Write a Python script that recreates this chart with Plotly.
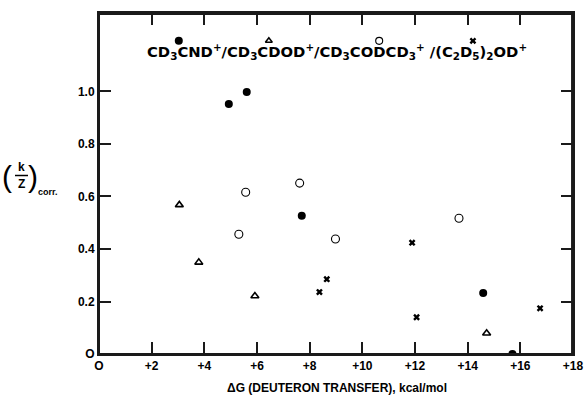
import plotly.graph_objects as go

# ---- data ----
filled_x = [4.93, 5.61, 7.70, 14.59, 15.70]
filled_y = [0.952, 0.998, 0.527, 0.232, 0.000]

tri_x = [3.05, 3.79, 5.92, 14.72]
tri_y = [0.568, 0.349, 0.221, 0.079]

open_x = [5.57, 5.31, 7.62, 8.98, 13.67]
open_y = [0.616, 0.456, 0.651, 0.438, 0.517]

cross_x = [8.65, 8.37, 11.89, 12.06, 16.75]
cross_y = [0.285, 0.236, 0.424, 0.140, 0.174]

x_tick_vals = [0, 2, 4, 6, 8, 10, 12, 14, 16, 18]
x_tick_text = ["O", "+2", "+4", "+6", "+8", "+10", "+12", "+14", "+16", "+18"]
y_tick_vals = [0, 0.2, 0.4, 0.6, 0.8, 1.0]
y_tick_text = ["O", "0.2", "0.4", "0.6", "0.8", "1.0"]

# key markers placed above the compound names (data coords)
key_x = [3.03, 6.45, 10.64, 14.20]
key_y = 1.193

FONT = "Liberation Sans"
LABEL_FONT = "DejaVu Sans"
INK = "#1a1a1a"
W, H = 584, 395
L, R, T, B = 99, 11, 13, 41
PW, PH = W - L - R, H - T - B
TICKLEN = 12


def px(x):
    return (x - L) / PW


def py(y):
    return (H - B - y) / PH


fig = go.Figure()

fig.add_trace(go.Scatter(x=filled_x, y=filled_y, mode="markers",
                         marker=dict(symbol="circle", size=8, color="black")))
fig.add_trace(go.Scatter(x=tri_x, y=tri_y, mode="markers",
                         marker=dict(symbol="triangle-up-open", size=7, color="black",
                                     line=dict(width=1.6, color="black"))))
fig.add_trace(go.Scatter(x=open_x, y=open_y, mode="markers",
                         marker=dict(symbol="circle-open", size=8, color="black",
                                     line=dict(width=1.1, color="black"))))
fig.add_trace(go.Scatter(x=cross_x, y=cross_y, mode="markers",
                         marker=dict(symbol="x", size=6, color="black",
                                     line=dict(width=0))))
for sym, k, s, lw in [("circle", 0, 8, 0), ("triangle-up-open", 1, 6, 1.5),
                      ("circle-open", 2, 7, 1.1), ("x", 3, 6, 0)]:
    fig.add_trace(go.Scatter(x=[key_x[k]], y=[key_y], mode="markers",
                             marker=dict(symbol=sym, size=s, color="black",
                                         line=dict(width=lw, color="black"))))

axis_common = dict(showgrid=False, zeroline=False, showline=True, linecolor=INK,
                   linewidth=2, mirror="ticks", ticks="inside", ticklen=TICKLEN,
                   tickwidth=1.6, tickcolor=INK,
                   tickfont=dict(family=FONT, size=12, color="black"))

fig.update_xaxes(range=[0, 18], tickvals=x_tick_vals,
                 ticktext=["<b>%s</b>" % t for t in x_tick_text], **axis_common)
fig.update_yaxes(range=[0, 1.299], tickvals=y_tick_vals,
                 ticktext=["<b>%s</b>" % t for t in y_tick_text], **axis_common)

label = ("<b>CD<sub>3</sub>CND<sup>+</sup>/CD<sub>3</sub>CDOD<sup>+</sup>/"
         "CD<sub>3</sub>CODCD<sub>3</sub><sup>+</sup> /(C<sub>2</sub>D<sub>5</sub>)"
         "<sub>2</sub>OD<sup>+</sup></b>")


def a(x, y, text, size, family=FONT, bold=True):
    return dict(x=px(x), y=py(y), xref="paper", yref="paper",
                text=("<b>%s</b>" % text) if bold else text,
                showarrow=False, xanchor="center", yanchor="middle",
                font=dict(family=family, size=size, color="black"))


ann = [
    a(337, 51, label, 14.8, LABEL_FONT, bold=False),
    a(337, 388, "ΔG (DEUTERON TRANSFER), kcal/mol", 12),
    a(7, 176, "(", 30, bold=False),
    a(33, 176, ")", 30, bold=False),
    a(21, 167, "k", 12),
    a(21, 184, "Z", 12),
    a(48, 192, "corr.", 9),
]

shapes = [
    dict(type="line", xref="paper", yref="paper", x0=px(15), x1=px(28),
         y0=py(175.5), y1=py(175.5), line=dict(color="black", width=1.5)),
    dict(type="rect", xref="paper", yref="paper", x0=0, x1=0.998, y0=0, y1=0.997,
         line=dict(color=INK, width=2)),
]

fig.update_layout(
    width=W, height=H, margin=dict(l=L, r=R, t=T, b=B, autoexpand=False),
    paper_bgcolor="white", plot_bgcolor="white", showlegend=False,
    annotations=ann, shapes=shapes,
)

fig.write_html("out.html", config={"displayModeBar": False},
               post_script="document.body.style.margin='0';")
